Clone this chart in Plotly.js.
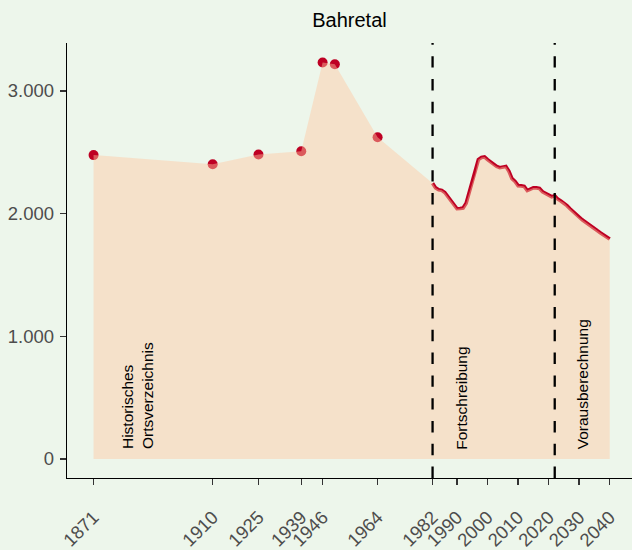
<!DOCTYPE html>
<html>
<head>
<meta charset="utf-8">
<script src="https://cdn.plot.ly/plotly-3.0.1.min.js"></script>
<style>html,body{margin:0;padding:0;background:#EDF6EB;}</style>
</head>
<body>
<div id="chart" style="width:632px;height:550px;"></div>
<script>
// Historical census points (Historisches Ortsverzeichnis)
const histYears = [1871, 1910, 1925, 1939, 1946, 1950, 1964];
const histPop   = [2477, 2403, 2482, 2509, 3232, 3218, 2623];

// Fortschreibung (annual)
const fortYears = [1982,1983,1984,1985,1986,1987,1988,1989,1990,1991,1992,1993,1994,1995,1996,1997,1998,1999,2000,2001,
                   2002,2003,2004,2005,2006,2007,2008,2009,2010,2011,2012,2013,2014,2015,2016,2017,2018,2019,2020,2021];
const fortPop   = [2247,2210,2195,2190,2172,2140,2105,2070,2040,2042,2046,2085,2170,2250,2330,2440,2458,2462,2440,2420,
                   2400,2385,2375,2382,2385,2345,2285,2262,2228,2226,2222,2188,2198,2210,2210,2205,2178,2165,2155,2138];

// Vorausberechnung (projection)
const projYears = [2022,2023,2024,2025,2026,2027,2028,2029,2030,2031,2032,2033,2034,2035,2036,2037,2038,2039,2040];
const projPop   = [2145,2118,2103,2088,2065,2040,2015,1990,1968,1950,1932,1912,1893,1875,1860,1843,1825,1808,1793];

// Period dividers and labels
const dividers = [1982, 2022];
const periodLabels = ["Historisches<br>Ortsverzeichnis", "Fortschreibung", "Vorausberechnung"];
const periodLabelX = [1885.6, 1991.6, 2030.9];

// Axis ticks
const xTicks = [1871, 1910, 1925, 1939, 1946, 1964, 1982, 1990, 2000, 2010, 2020, 2030, 2040];
const yTicks = [0, 1000, 2000, 3000];
const yTickText = ["0", "1.000", "2.000", "3.000"];

const lineYears = fortYears.concat(projYears);
const linePop = fortPop.concat(projPop);
const allYears = histYears.concat(lineYears);
const allPop = histPop.concat(linePop);

const red = "rgb(190,0,35)";
const font = "Liberation Sans, Arial, Helvetica, sans-serif";

const traces = [
  {
    x: histYears, y: histPop, type: "scatter", mode: "markers",
    marker: {color: red, size: 10, line: {width: 0}},
    hoverinfo: "skip", showlegend: false
  },
  {
    x: lineYears, y: linePop, type: "scatter", mode: "lines",
    line: {color: red, width: 3.6},
    hoverinfo: "skip", showlegend: false
  },
  {
    x: allYears, y: allPop, type: "scatter", mode: "lines",
    fill: "tozeroy", fillcolor: "rgba(255,200,162,0.45)",
    line: {width: 0, color: "rgba(0,0,0,0)"},
    hoverinfo: "skip", showlegend: false
  }
];

const shapes = dividers.map(d => ({
  type: "line", xref: "x", yref: "paper", x0: d, x1: d, y0: 0, y1: 1,
  line: {color: "black", width: 2.3, dash: "11.4px,11.4px"}, layer: "above"
}));

const annotations = periodLabels.map((t, i) => ({
  text: t, x: periodLabelX[i], y: 62, xref: "x", yref: "y",
  textangle: -90, xanchor: "center", yanchor: "bottom", align: "left",
  showarrow: false, font: {family: font, size: 15.5, color: "black"}
}));

const layout = {
  width: 632, height: 550,
  margin: {l: 67, r: 0, t: 43, b: 72, pad: 0},
  paper_bgcolor: "#EDF6EB", plot_bgcolor: "#EDF6EB",
  font: {family: font},
  title: {text: "Bahretal", x: 0.553, xanchor: "center", y: 0.963, yanchor: "middle",
          font: {family: font, size: 20, color: "black"}},
  xaxis: {
    range: [1862.3, 2047.3], tickvals: xTicks, ticktext: xTicks.map(String),
    tickangle: -45, ticks: "outside", ticklen: 6, tickwidth: 1.5, tickcolor: "#333",
    ticklabelstandoff: 14,
    showline: true, linecolor: "black", linewidth: 1.2, showgrid: false, zeroline: false,
    tickfont: {family: font, size: 18.5, color: "#4D4D4D"}, automargin: false
  },
  yaxis: {
    range: [-155, 3391], tickvals: yTicks, ticktext: yTickText,
    ticks: "outside", ticklen: 6, tickwidth: 1.5, tickcolor: "#333",
    ticklabelstandoff: 2,
    showline: true, linecolor: "black", linewidth: 1.2, showgrid: false, zeroline: false,
    tickfont: {family: font, size: 18.5, color: "#4D4D4D"}, automargin: false
  },
  shapes: shapes,
  annotations: annotations,
  showlegend: false
};

Plotly.newPlot("chart", traces, layout, {displayModeBar: false, staticPlot: true});
</script>
</body>
</html>
